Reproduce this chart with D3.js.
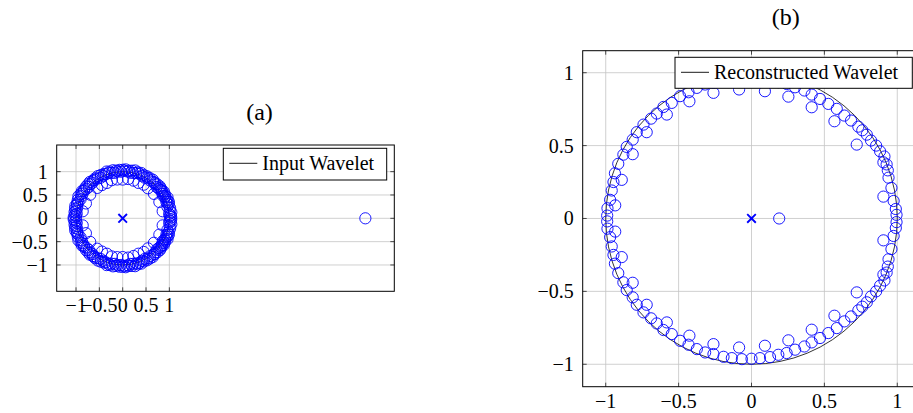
<!DOCTYPE html>
<html><head><meta charset="utf-8">
<script src="https://cdn.jsdelivr.net/npm/d3@7"></script>
<style>body{margin:0;background:#fff} svg{display:block}</style>
</head><body>
<svg id="c" width="913" height="413"></svg>
<script>
// ---------- data ----------
const tickValues = [-1, -0.5, 0, 0.5, 1];
const tickLabels = ["\u22121", "\u22120.5", "0", "0.5", "1"];
const titles = ["(a)", "(b)"];
const legendLabels = ["Input Wavelet", "Reconstructed Wavelet"];
const poleRe = [0];
const poleIm = [0];

// Input wavelet zeros (polar: magnitude, angle in degrees)
const inputMag = [
  1.04,1.03,1.05,1.04,1.03,1.05,1.04,1.06,1.03,1.04,1.05,1.03,1.04,1.05,1.04,1.03,1.05,1.04,1.04,1.03,1.05,1.04,1.06,1.04,1.03,1.05,1.04,1.04,1.03,1.05,1.04,1.06,1.03,1.04,1.05,1.04,1.03,1.05,1.04,1.04,1.03,1.05,1.04,1.06,1.04,1.03,1.05,1.04,1.04,1.03,1.05,
  1.04,1.03,1.05,1.04,1.03,1.05,1.04,1.06,1.03,1.04,1.05,1.03,1.04,1.05,1.04,1.03,1.05,1.04,1.04,1.03,1.05,1.04,1.06,1.04,1.03,1.05,1.04,1.04,1.03,1.05,1.04,1.06,1.03,1.04,1.05,1.04,1.03,1.05,1.04,1.04,1.03,1.05,1.04,1.06,1.04,1.03,1.05,1.04,1.04,1.03,1.05,
  1.01,1.0,1.02,0.99,1.01,1.0,1.02,1.01,0.99,1.0,1.02,1.01,1.0,0.99,1.01,1.02,1.0,1.01,0.99,1.0,1.02,1.01,1.0,0.99,1.01,1.02,1.0,1.01,0.99,1.0,1.02,1.01,1.0,0.99,1.01,1.02,1.0,1.01,0.99,1.0,1.02,1.01,1.0,0.99,1.01,1.02,1.0,1.01,0.99,1.0,
  1.01,1.0,1.02,0.99,1.01,1.0,1.02,1.01,0.99,1.0,1.02,1.01,1.0,0.99,1.01,1.02,1.0,1.01,0.99,1.0,1.02,1.01,1.0,0.99,1.01,1.02,1.0,1.01,0.99,1.0,1.02,1.01,1.0,0.99,1.01,1.02,1.0,1.01,0.99,1.0,1.02,1.01,1.0,0.99,1.01,1.02,1.0,1.01,0.99,1.0,
  0.87,0.86,0.85,0.84,0.85,0.83,0.84,0.85,0.83,0.84,0.85,0.83,0.84,0.85,0.86,0.85,0.87,
  0.87,0.86,0.85,0.84,0.85,0.83,0.84,0.85,0.83,0.84,0.85,0.83,0.84,0.85,0.86,0.85,0.87,
  5.2
];
const inputDeg = [
  1.4,3.8,7,12.3,16.6,19.4,21.8,25,27.6,30.3,33.1,36,38.5,40.7,44.5,48,52,56,60,64,67.5,71.6,75.4,78.9,82.4,86.5,90,93.9,98,101.4,105.7,109,112.7,116.5,120.3,124.6,128.3,132,135,139,143,146.4,150,153.5,157.7,161.7,165.2,168.7,172.5,176,178.8,
  -1.4,-3.8,-7,-12.3,-16.6,-19.4,-21.8,-25,-27.6,-30.3,-33.1,-36,-38.5,-40.7,-44.5,-48,-52,-56,-60,-64,-67.5,-71.6,-75.4,-78.9,-82.4,-86.5,-90,-93.9,-98,-101.4,-105.7,-109,-112.7,-116.5,-120.3,-124.6,-128.3,-132,-135,-139,-143,-146.4,-150,-153.5,-157.7,-161.7,-165.2,-168.7,-172.5,-176,-178.8,
  2.6,5.4,9.6,14.4,18,20.6,23.4,26.3,29,31.7,34.5,37.2,39.6,42.6,46.2,50,54,58,62,65.7,69.5,73.5,77.1,80.6,84.4,88.2,92,96,99.7,103.5,107.3,110.8,114.6,118.4,122.4,126.4,130.1,133.5,137,141,144.7,148.2,151.7,155.6,159.7,163.4,167,170.6,174.2,177.4,
  -2.6,-5.4,-9.6,-14.4,-18,-20.6,-23.4,-26.3,-29,-31.7,-34.5,-37.2,-39.6,-42.6,-46.2,-50,-54,-58,-62,-65.7,-69.5,-73.5,-77.1,-80.6,-84.4,-88.2,-92,-96,-99.7,-103.5,-107.3,-110.8,-114.6,-118.4,-122.4,-126.4,-130.1,-133.5,-137,-141,-144.7,-148.2,-151.7,-155.6,-159.7,-163.4,-167,-170.6,-174.2,-177.4,
  10,24,38,50,58,66,74,82,90,98,106,114,122,130,144,158,170,
  -10,-24,-38,-50,-58,-66,-74,-82,-90,-98,-106,-114,-122,-130,-144,-158,-170,
  0
];

// Reconstructed wavelet zeros (real, imaginary)
const reconRe = [
  0.995,0.99,0.975,0.96,0.94,0.935,0.927,0.912,0.882,0.855,0.820,0.791,0.76,0.733,0.683,0.637,0.585,0.527,0.470,0.413,0.363,0.299,0.241,0.184,0.127,0.058,0.0,
  -0.066,-0.135,-0.192,-0.261,-0.318,-0.375,-0.432,-0.490,-0.547,-0.604,-0.650,-0.689,-0.741,-0.787,-0.815,-0.856,-0.879,-0.914,-0.937,-0.947,-0.959,-0.970,-0.988,-0.99,
  0.905,0.905,0.722,0.569,0.413,0.253,0.092,-0.085,-0.261,-0.426,-0.581,-0.719,-0.815,-0.89,-0.935,
  0.995,0.99,0.975,0.96,0.94,0.935,0.927,0.912,0.882,0.855,0.820,0.791,0.76,0.733,0.683,0.637,0.585,0.527,0.470,0.413,0.363,0.299,0.241,0.184,0.127,0.058,0.0,
  -0.066,-0.135,-0.192,-0.261,-0.318,-0.375,-0.432,-0.490,-0.547,-0.604,-0.650,-0.689,-0.741,-0.787,-0.815,-0.856,-0.879,-0.914,-0.937,-0.947,-0.959,-0.970,-0.988,-0.99,
  0.905,0.905,0.722,0.569,0.413,0.253,0.092,-0.085,-0.261,-0.426,-0.581,-0.719,-0.815,-0.89,-0.935,
  0.19
];
const reconIm = [
  -0.025,-0.065,-0.12,-0.21,-0.28,-0.33,-0.371,-0.425,-0.461,-0.50,-0.535,-0.575,-0.605,-0.630,-0.672,-0.706,-0.752,-0.786,-0.820,-0.850,-0.878,-0.900,-0.923,-0.935,-0.951,-0.958,-0.962,
  -0.965,-0.958,-0.949,-0.930,-0.919,-0.896,-0.866,-0.839,-0.793,-0.765,-0.720,-0.685,-0.644,-0.592,-0.541,-0.491,-0.438,-0.375,-0.31,-0.25,-0.192,-0.128,-0.07,-0.02,
  -0.15,-0.385,-0.507,-0.667,-0.763,-0.836,-0.873,-0.885,-0.862,-0.804,-0.713,-0.592,-0.441,-0.265,-0.09,
  0.025,0.065,0.12,0.21,0.28,0.33,0.371,0.425,0.461,0.50,0.535,0.575,0.605,0.630,0.672,0.706,0.752,0.786,0.820,0.850,0.878,0.900,0.923,0.935,0.951,0.958,0.962,
  0.965,0.958,0.949,0.930,0.919,0.896,0.866,0.839,0.793,0.765,0.720,0.685,0.644,0.592,0.541,0.491,0.438,0.375,0.31,0.25,0.192,0.128,0.07,0.02,
  0.15,0.385,0.507,0.667,0.763,0.836,0.873,0.885,0.862,0.804,0.713,0.592,0.441,0.265,0.09,
  0
];

// ---------- drawing ----------
const svg = d3.select("#c");
const FONT = "'Liberation Serif','Times New Roman',serif";
const BLUE = "#0000ff";
const defs = svg.append("defs");

function panel(o) {
  const x = d3.scaleLinear().domain(o.xDom).range([o.left, o.right]);
  const y = d3.scaleLinear().domain(o.yDom).range([o.bottom, o.top]);
  const g = svg.append("g");
  const cid = "clip" + o.id;
  defs.append("clipPath").attr("id", cid).append("rect")
    .attr("x", o.left).attr("y", o.top).attr("width", o.right - o.left).attr("height", o.bottom - o.top);

  // grid
  const grid = g.append("g").attr("stroke", "#c4c4c4").attr("stroke-width", 0.8);
  grid.selectAll(".gx").data(tickValues).join("line")
    .attr("x1", d => x(d)).attr("x2", d => x(d)).attr("y1", o.top).attr("y2", o.bottom);
  grid.selectAll(".gy").data(tickValues).join("line")
    .attr("y1", d => y(d)).attr("y2", d => y(d)).attr("x1", o.left).attr("x2", o.right);

  const plot = g.append("g").attr("clip-path", `url(#${cid})`);
  // unit circle
  plot.append("circle").attr("cx", x(0)).attr("cy", y(0)).attr("r", x(1) - x(0))
    .attr("fill", "none").attr("stroke", "#000").attr("stroke-width", 0.8);
  // zeros
  plot.selectAll(".z").data(o.zeros).join("circle")
    .attr("cx", d => x(d[0])).attr("cy", d => y(d[1])).attr("r", 5.6)
    .attr("fill", "none").attr("stroke", BLUE).attr("stroke-width", 0.9);
  // poles
  const pr = 4.3;
  plot.selectAll(".p").data(poleRe.map((r, i) => [r, poleIm[i]])).join("path")
    .attr("d", d => {
      const cx = x(d[0]), cy = y(d[1]);
      return `M${cx - pr},${cy - pr}L${cx + pr},${cy + pr}M${cx - pr},${cy + pr}L${cx + pr},${cy - pr}`;
    })
    .attr("stroke", BLUE).attr("stroke-width", 1.9).attr("fill", "none");

  // tick marks
  const tk = g.append("g").attr("stroke", "#222").attr("stroke-width", 0.8);
  tickValues.forEach(v => {
    tk.append("line").attr("x1", x(v)).attr("x2", x(v)).attr("y1", o.bottom).attr("y2", o.bottom - 4);
    tk.append("line").attr("x1", x(v)).attr("x2", x(v)).attr("y1", o.top).attr("y2", o.top + 4);
    tk.append("line").attr("y1", y(v)).attr("y2", y(v)).attr("x1", o.left).attr("x2", o.left + 4);
    tk.append("line").attr("y1", y(v)).attr("y2", y(v)).attr("x1", o.right).attr("x2", o.right - 4);
  });

  // frame
  g.append("rect").attr("x", o.left).attr("y", o.top).attr("width", o.right - o.left).attr("height", o.bottom - o.top)
    .attr("fill", "none").attr("stroke", "#000").attr("stroke-width", 1);

  // tick labels
  g.selectAll(".xl").data(tickValues).join("text")
    .attr("x", d => x(d)).attr("y", o.xLabelBase).attr("text-anchor", "middle")
    .attr("font-family", FONT).attr("font-size", 20).text((d, i) => tickLabels[i]);
  g.selectAll(".yl").data(tickValues).join("text")
    .attr("x", o.left - 9).attr("y", d => y(d) + 7).attr("text-anchor", "end")
    .attr("font-family", FONT).attr("font-size", 20).text((d, i) => tickLabels[i]);

  // legend
  const lg = g.append("g");
  lg.append("rect").attr("x", o.legend.x).attr("y", o.legend.y).attr("width", o.legend.w).attr("height", o.legend.h)
    .attr("fill", "#fff").attr("stroke", "#000").attr("stroke-width", 1);
  lg.append("line").attr("x1", o.legend.x + 6).attr("x2", o.legend.x + 34)
    .attr("y1", o.legend.y + 15).attr("y2", o.legend.y + 15).attr("stroke", "#000").attr("stroke-width", 0.9);
  lg.append("text").attr("x", o.legend.x + 39).attr("y", o.legend.y + 21.5)
    .attr("font-family", FONT).attr("font-size", 20).text(o.legendText);

  // title
  g.append("text").attr("x", o.titleX).attr("y", o.titleY).attr("text-anchor", "middle")
    .attr("font-family", FONT).attr("font-size", 24).text(o.title);
}

panel({
  id: "a",
  xDom: [-1.414, 5.82], yDom: [-1.564, 1.571],
  left: 56.7, right: 394.3, top: 145, bottom: 291.3,
  zeros: inputMag.map((m, i) => [m * Math.cos(inputDeg[i] * Math.PI / 180), m * Math.sin(inputDeg[i] * Math.PI / 180)]),
  xLabelBase: 311.5,
  legend: {x: 223.3, y: 148.3, w: 163.4, h: 31.7},
  legendText: legendLabels[0],
  title: titles[0], titleX: 259.5, titleY: 120
});

panel({
  id: "b",
  xDom: [-1.158, 1.158], yDom: [-1.154, 1.151],
  left: 582.7, right: 920.3, top: 50.7, bottom: 386.7,
  zeros: reconRe.map((r, i) => [r, reconIm[i]]),
  xLabelBase: 408,
  legend: {x: 675, y: 57.3, w: 237.3, h: 31},
  legendText: legendLabels[1],
  title: titles[1], titleX: 785.8, titleY: 25
});
</script>
</body></html>
